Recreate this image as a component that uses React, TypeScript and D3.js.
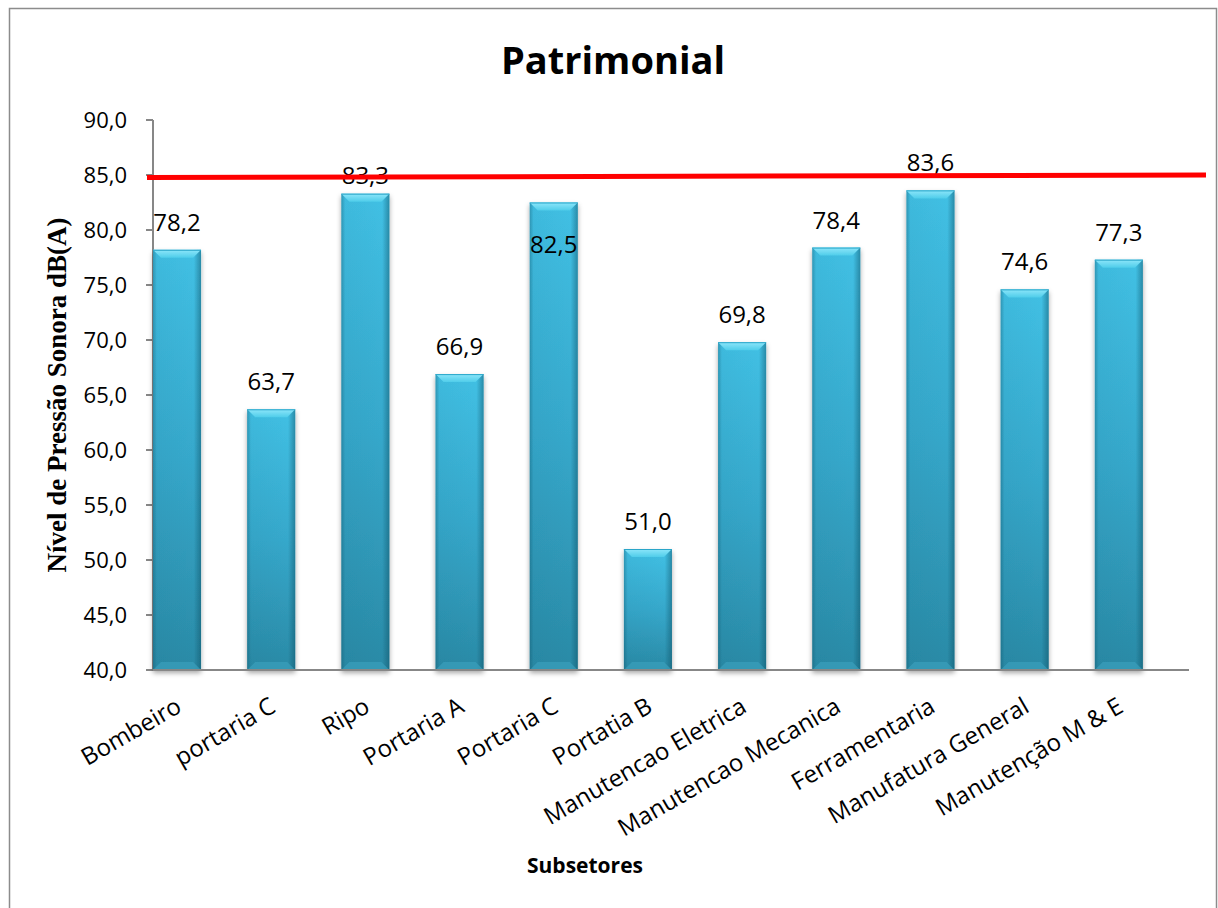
import React from 'react';
import * as d3 from 'd3';

const categories = [
  'Bombeiro',
  'portaria C',
  'Ripo',
  'Portaria A',
  'Portaria C',
  'Portatia B',
  'Manutencao Eletrica',
  'Manutencao Mecanica',
  'Ferramentaria',
  'Manufatura General',
  'Manutenção M & E',
];
const values = [78.2, 63.7, 83.3, 66.9, 82.5, 51.0, 69.8, 78.4, 83.6, 74.6, 77.3];
const yTicks = [40, 45, 50, 55, 60, 65, 70, 75, 80, 85, 90];
const limit = 85;

// label nudges where the original placed the value differently
const labelShift: Record<string, number> = { Ripo: 9, 'Portaria C': 69 };

const W = 1218;
const H = 908;
const plot = { left: 153, right: 1189, top: 120, bottom: 670 };

const fmt = (v: number) => v.toFixed(1).replace('.', ',');

const App: React.FC = () => {
  const x = d3.scaleBand<string>().domain(categories).range([plot.left, plot.right]).padding(0);
  const y = d3.scaleLinear().domain([40, 90]).range([plot.bottom, plot.top]);
  const barW = x.bandwidth() * 0.51;
  const bev = 8;
  const sans = "'Open Sans', sans-serif";

  return (
    <svg width={W} height={H} style={{ position: 'absolute', left: 0, top: 0 }}>
      <defs>
        <linearGradient id="barV" x1="0" y1="0" x2="0" y2="1">
          <stop offset="0" stopColor="#41c0e4" />
          <stop offset="0.5" stopColor="#36a8cb" />
          <stop offset="1" stopColor="#2a8aa6" />
        </linearGradient>
        <linearGradient id="barH" x1="0" y1="0" x2="1" y2="0">
          <stop offset="0" stopColor="#0b4a5e" stopOpacity="0.35" />
          <stop offset="0.08" stopColor="#0b4a5e" stopOpacity="0.05" />
          <stop offset="0.85" stopColor="#0b4a5e" stopOpacity="0" />
          <stop offset="1" stopColor="#0b4a5e" stopOpacity="0.45" />
        </linearGradient>
        <linearGradient id="bevTop" x1="0" y1="0" x2="0" y2="1">
          <stop offset="0" stopColor="#8de6fa" />
          <stop offset="1" stopColor="#4fcdea" />
        </linearGradient>
        <filter id="shadow" x="-20%" y="-5%" width="140%" height="115%">
          <feDropShadow dx="0" dy="3" stdDeviation="2.5" floodColor="#000" floodOpacity="0.35" />
        </filter>
      </defs>

      <rect x={9.5} y={8.5} width={1207} height={910} fill="#fff" stroke="#8c8c8c" strokeWidth={1.5} />

      <text x={613} y={74} textAnchor="middle" fontFamily={sans} fontWeight="bold" fontSize={38} fill="#000">
        Patrimonial
      </text>

      {/* y axis */}
      <line x1={plot.left} x2={plot.left} y1={plot.top} y2={plot.bottom} stroke="#878787" strokeWidth={2} />
      {yTicks.map((t) => (
        <g key={t}>
          <line x1={plot.left - 7} x2={plot.left} y1={y(t)} y2={y(t)} stroke="#878787" strokeWidth={2} />
          <text x={127} y={y(t)} dy="0.36em" textAnchor="end" fontFamily={sans} fontSize={22} fill="#000">
            {fmt(t)}
          </text>
        </g>
      ))}

      {/* bars */}
      <g filter="url(#shadow)">
        {categories.map((c, i) => {
          const x0 = x(c) as number;
          const top = y(values[i]);
          const bot = y(40);
          return (
            <g key={c}>
              <rect x={x0} y={top} width={barW} height={bot - top} fill="url(#barV)" />
              <rect x={x0} y={top} width={barW} height={bot - top} fill="url(#barH)" />
              <polygon
                points={`${x0},${bot} ${x0 + bev},${bot - bev} ${x0 + barW - bev},${bot - bev} ${x0 + barW},${bot}`}
                fill="#3a9fbc"
                opacity={0.7}
              />
              <polygon
                points={`${x0},${top} ${x0 + barW},${top} ${x0 + barW - bev},${top + bev} ${x0 + bev},${top + bev}`}
                fill="url(#bevTop)"
              />
              <line x1={x0} x2={x0 + barW} y1={top + 0.5} y2={top + 0.5} stroke="#2aa6c9" strokeWidth={1} />
            </g>
          );
        })}
      </g>

      {/* x axis */}
      <line x1={plot.left} x2={plot.right} y1={plot.bottom} y2={plot.bottom} stroke="#878787" strokeWidth={2} />

      {/* value labels */}
      {categories.map((c, i) => (
        <text
          key={c}
          x={(x(c) as number) + barW / 2}
          y={y(values[i]) - 19 + (labelShift[c] ?? 0)}
          textAnchor="middle"
          fontFamily={sans}
          fontSize={24}
          fill="#000"
        >
          {fmt(values[i])}
        </text>
      ))}

      {/* limit line */}
      <line x1={147} x2={1206} y1={y(limit) + 2.5} y2={y(limit)} stroke="#ff0000" strokeWidth={5} />

      {/* category labels */}
      {categories.map((c) => {
        const cx = (x(c) as number) + barW / 2 + 6;
        return (
          <text
            key={c}
            transform={`translate(${cx},${711}) rotate(-30)`}
            textAnchor="end"
            fontFamily={sans}
            fontSize={24}
            fill="#000"
          >
            {c}
          </text>
        );
      })}

      <text x={585} y={873} textAnchor="middle" fontFamily={sans} fontWeight="bold" fontSize={21} fill="#000">
        Subsetores
      </text>

      <text
        transform={`translate(66,395) rotate(-90)`}
        textAnchor="middle"
        fontFamily="'Liberation Serif', 'Times New Roman', serif"
        fontWeight="bold"
        fontSize={27}
        fill="#000"
      >
        Nível de Pressão Sonora dB(A)
      </text>
    </svg>
  );
};

export default App;
